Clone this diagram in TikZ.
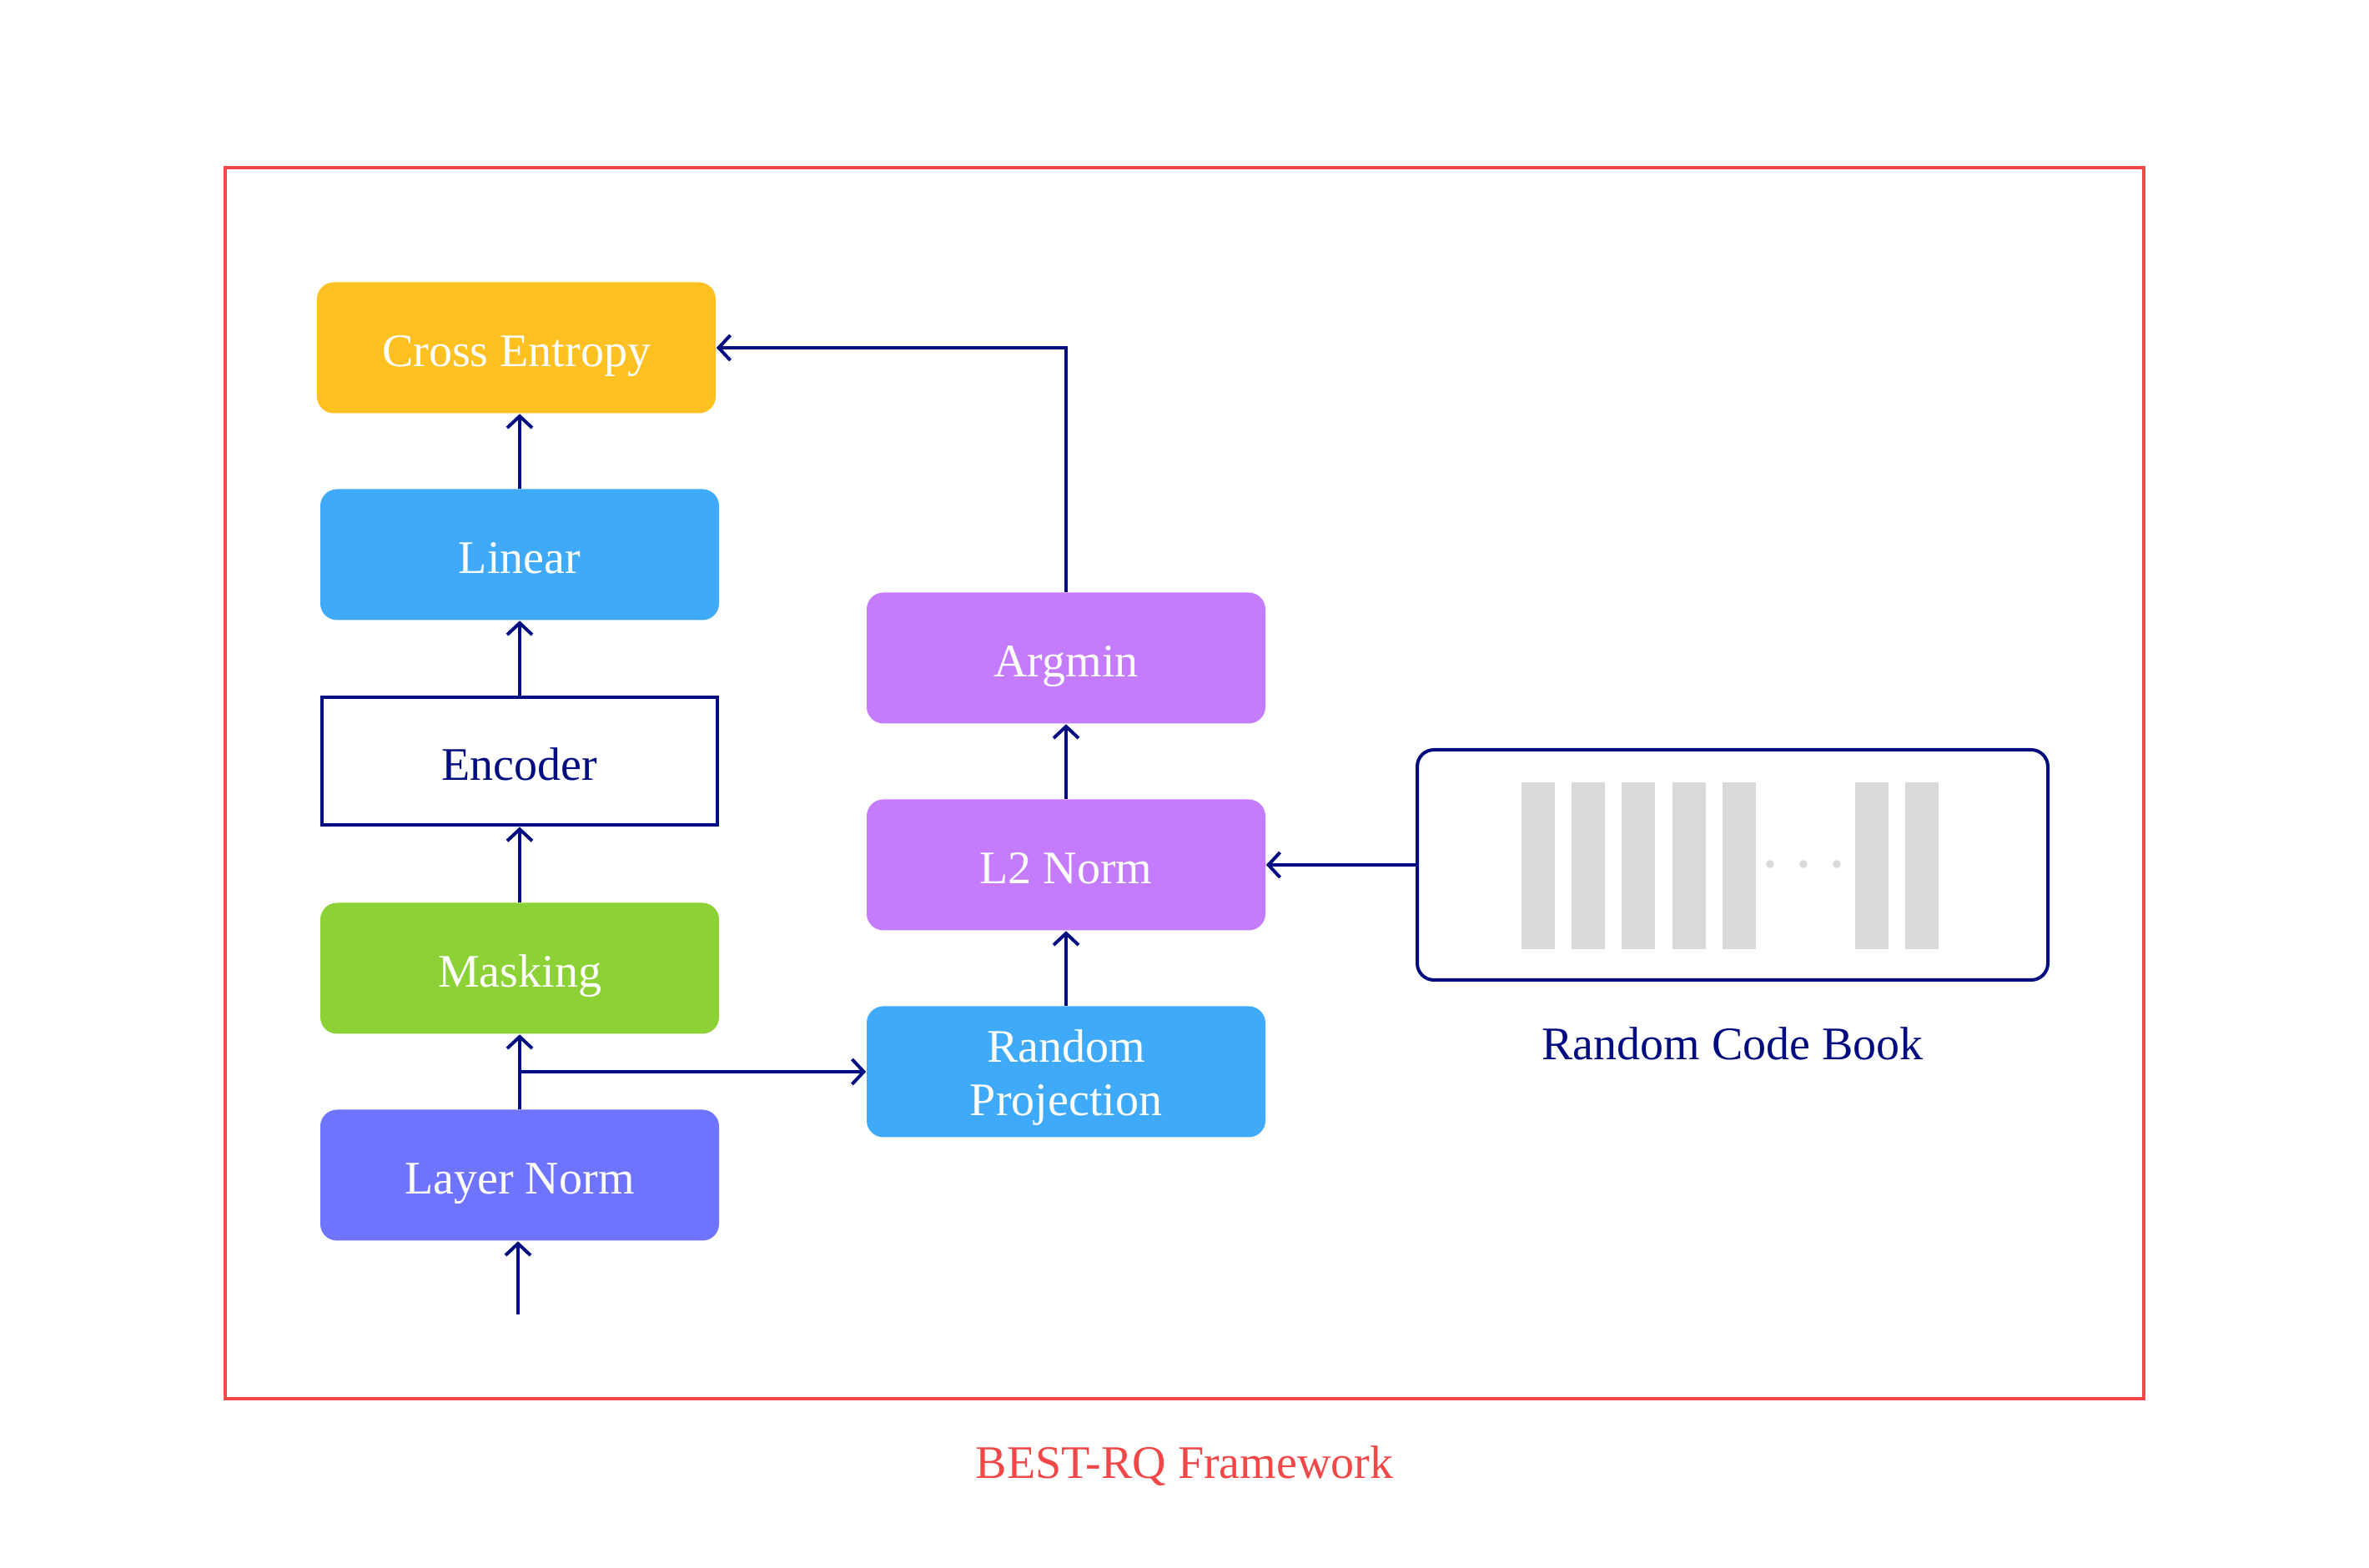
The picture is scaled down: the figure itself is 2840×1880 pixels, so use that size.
\documentclass[tikz,border=0pt]{standalone}
\usepackage{fontspec}
\setmainfont{Liberation Serif}
\usetikzlibrary{arrows.meta}
\definecolor{navyc}{HTML}{000C80}
\definecolor{framered}{HTML}{F04848}
\definecolor{ceyellow}{HTML}{FFC021}
\definecolor{linblue}{HTML}{40AAFA}
\definecolor{maskgreen}{HTML}{8CD136}
\definecolor{lnblue}{HTML}{6F74FF}
\definecolor{purp}{HTML}{C57BFE}
\definecolor{barg}{HTML}{D9D9D9}
\begin{document}
\begin{tikzpicture}[x=0.25pt,y=-0.25pt,
  txt/.style={font=\fontsize{14}{16}\selectfont},
  boxshape/.style={rectangle, rounded corners=5pt, minimum width=119.5pt, minimum height=39.25pt, inner sep=0pt},
  box/.style={txt, boxshape, text=white, text height=11.2pt, text depth=0pt},
  encbox/.style={txt, rectangle, draw=navyc, line width=1pt, minimum width=118.5pt, minimum height=38.25pt, inner sep=0pt, text=navyc, text height=11.2pt, text depth=0pt},
  conn/.style={draw=navyc, line width=1pt},
  arr/.style={conn, -{Straight Barb[length=3.5pt,width=7.5pt,line width=1pt]}}
]
\useasboundingbox (0,0) rectangle (2840,1880);
% frame
\node[draw=framered, line width=1pt, minimum width=575pt, minimum height=369pt, inner sep=0pt] (frame) at (1420,939) {};
\node[txt, text=framered] (title) at (1420,1758) {BEST-RQ Framework};
% left column
\node[box, fill=ceyellow] (ce) at (619,417) {Cross Entropy};
\node[box, fill=linblue] (lin) at (623,665) {Linear};
\node[encbox] (enc) at (623,913) {Encoder};
\node[box, fill=maskgreen] (mask) at (623,1161) {Masking};
\node[box, fill=lnblue] (ln) at (623,1409) {Layer Norm};
% right column
\node[box, fill=purp] (arg) at (1278,789) {Argmin};
\node[box, fill=purp] (l2) at (1278,1037) {L2 Norm};
\node[boxshape, fill=linblue] (rp) at (1278,1285) {};
\node[txt, text=white, align=center, inner sep=0pt] (rptext) at (1278,1292) {Random\\Projection};
% codebook
\node[draw=navyc, line width=1pt, rounded corners=5pt, minimum width=189pt, minimum height=69pt, inner sep=0pt] (cb) at (2077,1037) {};
\foreach \bx in {1824,1884,1944,2005,2065,2224,2284}{
  \fill[barg] (\bx,938) rectangle ++(40,200);
}
\foreach \dx in {2122,2162,2202}{
  \fill[barg] (\dx,1036) circle (1.2pt);
}
\node[txt, text=navyc] (cblabel) at (2077,1251) {Random Code Book};
% connectors
\coordinate (in) at (621,1576);
\draw[arr] (in) -- (ln.south -| in);
\draw[arr] (ln.north) -- (mask.south);
\coordinate (br) at (ln.north |- rp.west);
\draw[arr] (br) -- (rp.west);
\draw[arr] (mask.north) -- (enc.south);
\draw[arr] (enc.north) -- (lin.south);
\draw[arr] (lin.north) -- (ce.south -| lin.north);
\draw[arr] (rp.north) -- (l2.south);
\draw[arr] (l2.north) -- (arg.south);
\draw[arr] (cb.west) -- (l2.east);
\draw[arr] (arg.north) |- (ce.east);
\end{tikzpicture}
\end{document}
